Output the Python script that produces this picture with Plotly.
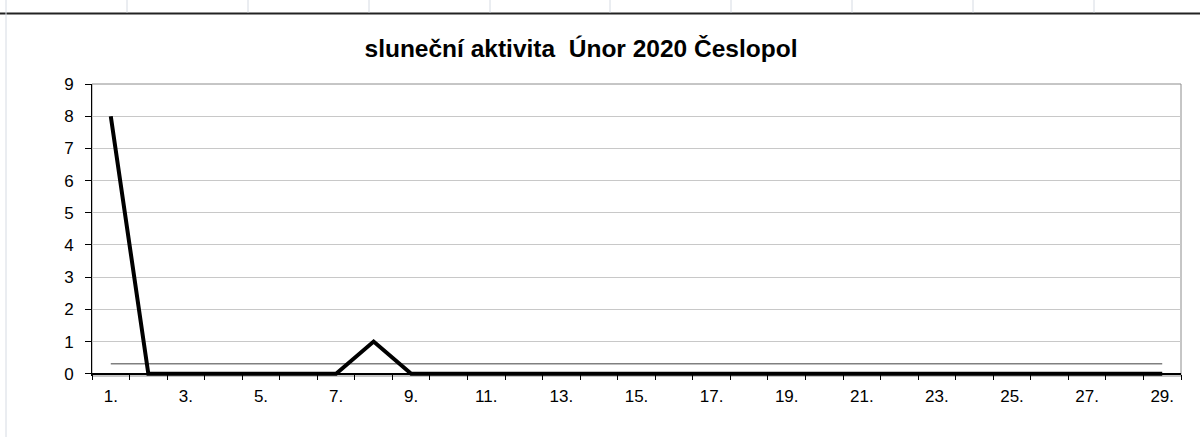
import plotly.graph_objects as go

# ---- data ----
days = list(range(1, 30))
activity = [8, 0, 0, 0, 0, 0, 0, 1, 0, 0,
            0, 0, 0, 0, 0, 0, 0, 0, 0, 0,
            0, 0, 0, 0, 0, 0, 0, 0, 0]
tick_days = list(range(1, 30, 2))
tick_labels = [f"{d}." for d in tick_days]
y_ticks = list(range(0, 10))
title_text = "sluneční aktivita  Únor 2020 Česlopol"

avg = sum(activity) / len(activity)
average_line = [avg] * len(days)

W, H = 1200, 437
L, R, T, B = 92, 19, 84, 61
ymin, ymax = -0.07, 9
FONT = "Liberation Sans, Arial, sans-serif"

def px(x):
    return (x - L) / (W - L - R)

def py(y):
    return (H - B - y) / (H - T - B)

fig = go.Figure()
fig.add_trace(go.Scatter(x=days, y=average_line, mode="lines",
                         line=dict(color="#808080", width=1.5),
                         hoverinfo="skip", showlegend=False))
fig.add_trace(go.Scatter(x=days, y=activity, mode="lines",
                         line=dict(color="black", width=4),
                         showlegend=False))

shapes = []
# plot area border (gray)
shapes.append(dict(type="rect", xref="paper", yref="paper", x0=0, x1=1, y0=0, y1=1,
                   line=dict(color="#8c8c8c", width=1), layer="below"))
# spreadsheet decorations
shapes.append(dict(type="line", xref="paper", yref="paper", x0=px(0), x1=px(W),
                   y0=py(13.5), y1=py(13.5), line=dict(color="#222222", width=2)))
shapes.append(dict(type="line", xref="paper", yref="paper", x0=px(6), x1=px(6),
                   y0=py(0), y1=py(H), line=dict(color="#d6dbe3", width=1)))
for cx in [127, 248, 369, 490, 610, 731, 852, 973, 1094]:
    shapes.append(dict(type="line", xref="paper", yref="paper", x0=px(cx), x1=px(cx),
                       y0=py(0), y1=py(12.5), line=dict(color="#d6dbe3", width=1)))

fig.update_layout(
    width=W, height=H,
    margin=dict(l=L, r=R, t=T, b=B, pad=0),
    paper_bgcolor="white", plot_bgcolor="white",
    font=dict(family=FONT, size=17, color="black"),
    title=dict(text=title_text, x=px(581), xref="paper", xanchor="center",
               y=1 - 48 / H, yanchor="middle",
               font=dict(family=FONT, size=24.5, color="black", weight="bold")),
    shapes=shapes,
    xaxis=dict(range=[0.5, 29.5], tickmode="array", tickvals=tick_days, ticktext=tick_labels,
               ticks="", showgrid=False, zeroline=False,
               showline=True, linecolor="black", linewidth=1,
               anchor="free", position=(0 - ymin) / (ymax - ymin),
               ticklabelstandoff=7,
               tickfont=dict(family=FONT, size=17, color="black"),
               minor=dict(tickmode="array", tickvals=[i + 0.5 for i in range(30)],
                          ticks="outside", ticklen=5, tickcolor="black", tickwidth=1,
                          showgrid=False)),
    yaxis=dict(range=[ymin, ymax], tickmode="array", tickvals=y_ticks,
               ticks="outside", ticklen=6, tickcolor="black",
               showgrid=True, gridcolor="#c8c8c8", gridwidth=1,
               zeroline=True, zerolinecolor="black", zerolinewidth=1,
               showline=True, linecolor="black", linewidth=1,
               ticklabelstandoff=8,
               tickfont=dict(family=FONT, size=17, color="black")),
)

fig.write_html("out.html",
               config={"displayModeBar": False},
               post_script="document.body.style.margin='0';document.body.style.overflow='hidden';")
